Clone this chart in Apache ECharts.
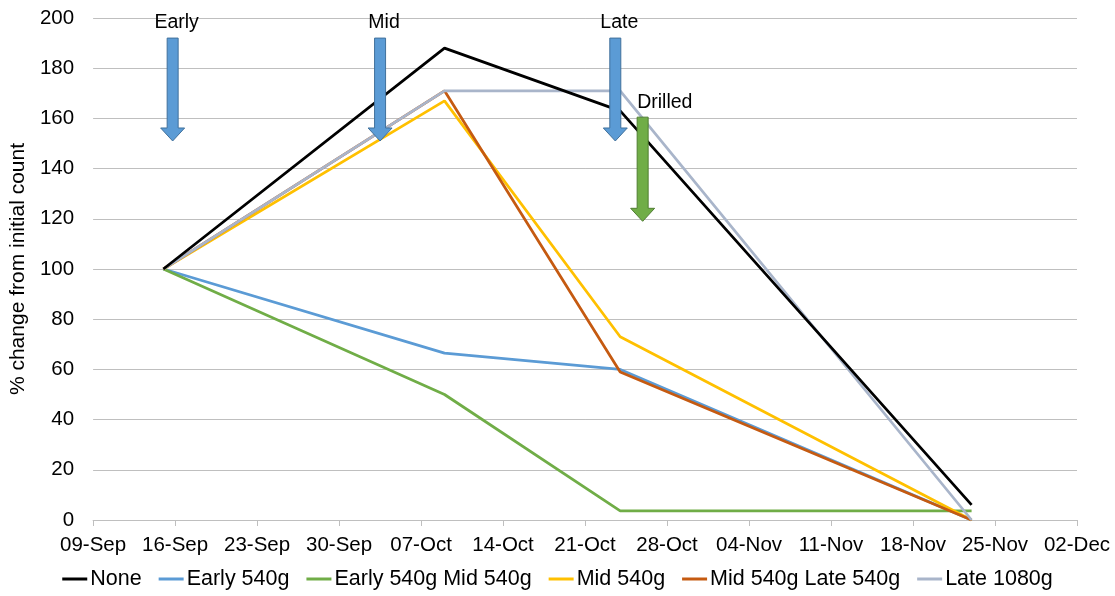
<!DOCTYPE html>
<html>
<head>
<meta charset="utf-8">
<script src="https://cdn.jsdelivr.net/npm/echarts@6/dist/echarts.min.js"></script>
<style>
  html, body { margin: 0; padding: 0; background: #fff; }
  #chart { width: 1115px; height: 596px; }
</style>
</head>
<body>
<div id="chart"></div>
<script>
// Sampling dates and the % change from the initial count for each treatment
const sampleDates = ['15-Sep', '09-Oct', '24-Oct', '23-Nov'];
const seriesNames = ['None', 'Early 540g', 'Early 540g Mid 540g', 'Mid 540g', 'Mid 540g Late 540g', 'Late 1080g'];
const noneValues = [100, 188, 163, 6];
const early540Values = [100, 66.5, 60, 0];
const earlyMid540Values = [100, 50, 3.6, 3.6];
const mid540Values = [100, 167, 73, 0];
const midLate540Values = [100, 171, 59, 0];
const late1080Values = [100, 171, 171, 0];

// Weekly tick labels along the date axis, starting at the axis minimum
const xTickLabels = ['09-Sep', '16-Sep', '23-Sep', '30-Sep', '07-Oct', '14-Oct', '21-Oct',
                     '28-Oct', '04-Nov', '11-Nov', '18-Nov', '25-Nov', '02-Dec'];
const yTickLabels = [0, 20, 40, 60, 80, 100, 120, 140, 160, 180, 200];

// Application timing markers: when, label, top and tip of each arrow (% axis)
const markerDates = ['15-Sep 19:00', '03-Oct 12:00', '23-Oct 14:00', '25-Oct 22:00'];
const markerLabels = ['Early', 'Mid', 'Late', 'Drilled'];
const markerTop = [192, 192, 192, 160.5];
const markerTip = [151, 151, 151, 119];

const MONTHS = { Jan: 0, Feb: 1, Mar: 2, Apr: 3, May: 4, Jun: 5, Jul: 6, Aug: 7, Sep: 8, Oct: 9, Nov: 10, Dec: 11 };
function parseDay(s) {
  const [datePart, timePart] = s.split(' ');
  const [d, mon] = datePart.split('-');
  let h = 0, mi = 0;
  if (timePart) { [h, mi] = timePart.split(':').map(Number); }
  return Date.UTC(2013, MONTHS[mon], +d, h, mi);
}
const originDay = parseDay(xTickLabels[0]);
const dayOffset = s => (parseDay(s) - originDay) / 86400000;

const xDays = sampleDates.map(dayOffset);
const allValues = [noneValues, early540Values, earlyMid540Values, mid540Values, midLate540Values, late1080Values];
const colors = ['#000000', '#5b9bd5', '#70ad47', '#ffc000', '#c55a11', '#a9b5ca'];

const FONT = "'Liberation Sans', Arial, sans-serif";

const lineSeries = seriesNames.map((name, i) => ({
  name: name,
  type: 'line',
  data: xDays.map((x, j) => [x, allValues[i][j]]),
  symbol: 'none',
  color: colors[i],
  lineStyle: { width: 2.75, color: colors[i] },
  z: name === 'None' ? 4 : 2
}));

const markerData = markerDates.map((d, i) => [dayOffset(d), markerTop[i], markerTip[i], i]);
const markerFill = ['#5b9bd5', '#5b9bd5', '#5b9bd5', '#70ad47'];
const markerStroke = ['#41719c', '#41719c', '#41719c', '#507e32'];

function renderMarker(params, api) {
  const i = api.value(3);
  const top = api.coord([api.value(0), api.value(1)]);
  const tip = api.coord([api.value(0), api.value(2)]);
  const cx = top[0];
  const shaftHalf = 5.5, headHalf = 12, headLen = 13;
  const headStart = tip[1] - headLen;
  const points = [
    [cx - shaftHalf, top[1]], [cx + shaftHalf, top[1]], [cx + shaftHalf, headStart],
    [cx + headHalf, headStart], [cx, tip[1]], [cx - headHalf, headStart],
    [cx - shaftHalf, headStart]
  ];
  const leftAligned = markerLabels[i] === 'Drilled';
  return {
    type: 'group',
    children: [
      {
        type: 'polygon',
        shape: { points: points },
        style: { fill: markerFill[i], stroke: markerStroke[i], lineWidth: 1 }
      },
      {
        type: 'text',
        style: {
          text: markerLabels[i],
          x: leftAligned ? cx - shaftHalf : cx + 4,
          y: top[1] - 15,
          textAlign: leftAligned ? 'left' : 'center',
          textVerticalAlign: 'middle',
          fill: '#000',
          font: '19.5px ' + FONT
        }
      }
    ]
  };
}

const chart = echarts.init(document.getElementById('chart'), null, { renderer: 'canvas' });
chart.setOption({
  animation: false,
  backgroundColor: '#ffffff',
  textStyle: { fontFamily: FONT },
  grid: { left: 91, right: 38, top: 18, bottom: 76, containLabel: false },
  legend: {
    data: seriesNames,
    bottom: 1,
    left: 'center',
    icon: 'rect',
    itemWidth: 25,
    itemHeight: 3,
    itemGap: 17,
    textStyle: { fontSize: 21.5, color: '#000', fontFamily: FONT, padding: [0, 0, 0, -2] }
  },
  xAxis: {
    type: 'value',
    min: 0,
    max: (xTickLabels.length - 1) * 7,
    interval: 7,
    axisLine: { show: true, lineStyle: { color: '#bfbfbf', width: 1 } },
    axisTick: { show: true, length: 6, lineStyle: { color: '#bfbfbf' } },
    splitLine: { show: false },
    axisLabel: {
      fontSize: 20.5, color: '#000', margin: 15, fontFamily: FONT,
      formatter: v => xTickLabels[Math.round(v / 7)]
    }
  },
  yAxis: {
    type: 'value',
    min: yTickLabels[0],
    max: yTickLabels[yTickLabels.length - 1],
    interval: yTickLabels[1] - yTickLabels[0],
    name: '% change from initial count',
    nameLocation: 'middle',
    nameGap: 63,
    nameTextStyle: { fontSize: 21, color: '#000', fontFamily: FONT },
    axisLine: { show: false },
    axisTick: { show: false },
    splitLine: { show: true, lineStyle: { color: '#bfbfbf', width: 1 } },
    axisLabel: { fontSize: 20.5, color: '#000', margin: 19, fontFamily: FONT }
  },
  series: lineSeries.concat([{
    name: 'markers',
    type: 'custom',
    renderItem: renderMarker,
    data: markerData,
    encode: { x: 0, y: 1 },
    clip: false,
    z: 10,
    silent: true
  }])
});
</script>
</body>
</html>
